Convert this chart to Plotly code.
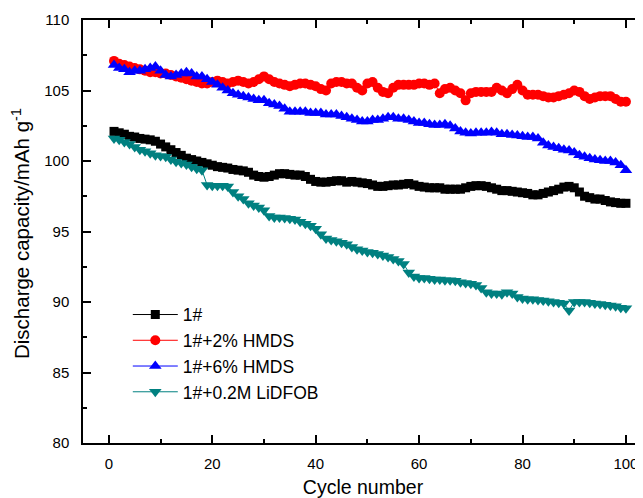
import plotly.graph_objects as go

cycles = list(range(1, 101))

cap_1 = [102.1, 102.0, 101.9, 101.75, 101.7, 101.6, 101.55, 101.5, 101.4, 101.2,
         101.0, 100.8, 100.6, 100.4, 100.2, 100.1, 100.0, 99.9, 99.8, 99.7,
         99.6, 99.55, 99.5, 99.4, 99.35, 99.3, 99.2, 99.0, 98.9, 98.85,
         98.9, 99.0, 99.1, 99.1, 99.05, 99.0, 99.0, 98.9, 98.7, 98.55,
         98.5, 98.5, 98.55, 98.6, 98.6, 98.5, 98.55, 98.5, 98.45, 98.4,
         98.3, 98.2, 98.2, 98.25, 98.3, 98.3, 98.35, 98.4, 98.3, 98.2,
         98.15, 98.1, 98.1, 98.1, 98.0, 98.0, 98.0, 98.0, 98.1, 98.2,
         98.25, 98.25, 98.2, 98.1, 98.0, 97.9, 97.9, 97.85, 97.8, 97.75,
         97.7, 97.6, 97.6, 97.7, 97.8, 97.9, 98.0, 98.15, 98.2, 98.1,
         97.8, 97.5, 97.4, 97.3, 97.3, 97.2, 97.1, 97.05, 97.0, 97.0]

cap_2hmds = [107.1, 106.9, 106.8, 106.7, 106.6, 106.5, 106.4, 106.3, 106.3, 106.2,
             106.2, 106.1, 106.0, 105.9, 105.8, 105.7, 105.6, 105.5, 105.5, 105.6,
             105.7, 105.6, 105.5, 105.6, 105.7, 105.6, 105.5, 105.6, 105.8, 106.0,
             105.8, 105.6, 105.5, 105.4, 105.3, 105.4, 105.5, 105.5, 105.4, 105.3,
             105.1, 105.0, 105.5, 105.6, 105.6, 105.5, 105.5, 105.2, 105.0, 105.5,
             105.6, 105.2, 104.9, 104.8, 105.2, 105.4, 105.4, 105.4, 105.4, 105.5,
             105.5, 105.4, 105.5, 104.8, 105.1, 105.2, 105.0, 104.8, 104.3, 104.8,
             104.9, 104.9, 104.9, 104.9, 105.2, 105.0, 104.8, 105.1, 105.4, 105.0,
             104.7, 104.7, 104.7, 104.6, 104.5, 104.5, 104.6, 104.7, 104.8, 105.0,
             104.9, 104.6, 104.4, 104.5, 104.6, 104.6, 104.6, 104.4, 104.2, 104.2]

cap_6hmds = [106.8, 106.6, 106.5, 106.3, 106.4, 106.4, 106.5, 106.6, 106.7, 106.4,
             106.1, 106.0, 106.1, 106.2, 106.3, 106.2, 106.0, 106.0, 105.8, 105.6,
             105.4, 105.2, 105.0, 104.8, 104.7, 104.6, 104.5, 104.4, 104.3, 104.3,
             104.1, 104.0, 103.9, 103.7, 103.5, 103.5, 103.5, 103.5, 103.4, 103.4,
             103.4, 103.3, 103.3, 103.3, 103.2, 103.1, 103.0, 102.9, 102.8, 102.8,
             102.9, 102.9, 103.0, 103.1, 103.1, 103.0, 103.0, 102.9, 102.8, 102.7,
             102.7, 102.6, 102.55, 102.55, 102.6, 102.5, 102.3, 102.1, 102.0, 101.95,
             102.0, 102.0, 102.0, 102.05, 102.0, 101.9, 101.9, 101.85, 101.8, 101.75,
             101.7, 101.7, 101.6, 101.3, 101.1, 101.0, 100.9, 100.8, 100.75, 100.6,
             100.4, 100.3, 100.2, 100.1, 100.05, 100.0, 100.0, 99.9, 99.7, 99.35]

cap_lidfob = [101.6, 101.5, 101.35, 101.2, 101.0, 100.8, 100.7, 100.55, 100.4, 100.35,
              100.3, 100.1, 99.95, 99.85, 99.75, 99.6, 99.45, 99.35, 98.3, 98.25,
              98.25, 98.25, 98.2, 97.8, 97.5, 97.3, 97.0, 96.85, 96.7, 96.5,
              96.1, 96.0, 96.0, 95.95, 95.9, 95.85, 95.7, 95.55, 95.4, 95.2,
              94.8, 94.5, 94.4, 94.3, 94.2, 94.1, 93.9, 93.75, 93.65, 93.55,
              93.5, 93.4, 93.3, 93.2, 93.05, 92.9, 92.7, 92.1, 91.8, 91.7,
              91.7, 91.65, 91.6, 91.6, 91.55, 91.55, 91.5, 91.4, 91.35, 91.3,
              91.2, 91.0, 90.7, 90.6, 90.6, 90.55, 90.7, 90.6, 90.35, 90.25,
              90.2, 90.2, 90.15, 90.1, 90.05, 90.0, 89.95, 89.9, 89.4, 90.0,
              90.0, 90.0, 89.95, 89.9, 89.85, 89.8, 89.75, 89.7, 89.6, 89.55]

series_names = ["1#", "1#+2% HMDS", "1#+6% HMDS", "1#+0.2M LiDFOB"]
series_values = [cap_1, cap_2hmds, cap_6hmds, cap_lidfob]
series_colors = ["#000000", "#FF0000", "#0000FF", "#008080"]
series_symbols = ["square", "circle", "triangle-up", "triangle-down"]
series_sizes = [9, 10, 11, 11]

x_title = "Cycle number"
y_title = "Discharge capacity/mAh g<sup>-1</sup>"

fig = go.Figure()
for name, vals, col, sym, sz in zip(series_names, series_values, series_colors,
                                     series_symbols, series_sizes):
    fig.add_trace(go.Scatter(
        x=cycles, y=vals, name=name, mode="lines+markers",
        line=dict(color=col, width=1),
        marker=dict(symbol=sym, size=sz, color=col, line=dict(width=0)),
    ))

font_family = "Liberation Sans, Arial, sans-serif"

# The page body has an 8px default margin; the figure is sized to fit the window.
fig.update_layout(
    width=635, height=490,
    margin=dict(l=75, r=0, t=12, b=55),
    paper_bgcolor="white", plot_bgcolor="white",
    font=dict(family=font_family, size=15, color="black"),
    showlegend=True,
    legend=dict(
        x=0.08, y=0.346, xanchor="left", yanchor="top",
        bgcolor="rgba(0,0,0,0)", borderwidth=0,
        font=dict(size=17.5, family=font_family, color="black"),
        itemwidth=45, tracegroupgap=0,
    ),
    xaxis=dict(
        range=[-5, 103.3], tickmode="linear", tick0=0, dtick=20,
        ticks="inside", ticklen=8, tickwidth=1.5, tickcolor="black",
        showline=True, linecolor="black", linewidth=1.5, mirror="ticks",
        showgrid=False, zeroline=False, automargin=False,
        minor=dict(dtick=10, ticks="inside", ticklen=4, tickwidth=1.5, tickcolor="black", showgrid=False),
        tickfont=dict(size=15), ticklabelstandoff=6,
        title=dict(text=x_title, font=dict(size=19.5), standoff=14),
    ),
    yaxis=dict(
        range=[80, 110], tickmode="linear", tick0=80, dtick=5,
        ticks="inside", ticklen=8, tickwidth=1.5, tickcolor="black",
        showline=True, linecolor="black", linewidth=1.5, mirror=False,
        showgrid=False, zeroline=False, automargin=False,
        minor=dict(dtick=2.5, ticks="inside", ticklen=4, tickwidth=1.5, tickcolor="black", showgrid=False),
        tickfont=dict(size=15), ticklabelstandoff=9,
    ),
    annotations=[dict(
        text=y_title, textangle=-90, showarrow=False,
        xref="paper", yref="paper", x=-0.111, y=0.496,
        xanchor="center", yanchor="middle",
        font=dict(size=20.5, family=font_family, color="black"),
    )],
)

fig.write_html("out.html")
